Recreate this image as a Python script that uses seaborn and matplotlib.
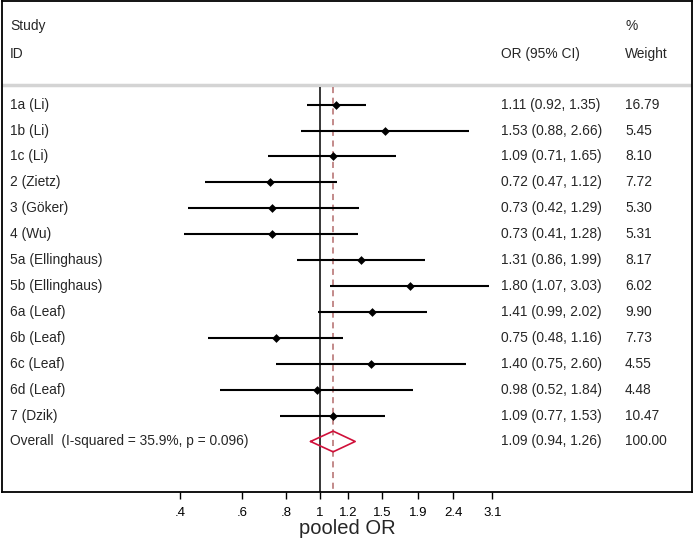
import numpy as np
import seaborn as sns
import matplotlib
matplotlib.use("Agg")
import matplotlib.pyplot as plt

# study data
studies = ['1a (Li)', '1b (Li)', '1c (Li)', '2 (Zietz)', '3 (Göker)', '4 (Wu)',
           '5a (Ellinghaus)', '5b (Ellinghaus)', '6a (Leaf)', '6b (Leaf)',
           '6c (Leaf)', '6d (Leaf)', '7 (Dzik)']
odds = [1.11, 1.53, 1.09, 0.72, 0.73, 0.73, 1.31, 1.80, 1.41, 0.75, 1.40, 0.98, 1.09]
lower = [0.92, 0.88, 0.71, 0.47, 0.42, 0.41, 0.86, 1.07, 0.99, 0.48, 0.75, 0.52, 0.77]
upper = [1.35, 2.66, 1.65, 1.12, 1.29, 1.28, 1.99, 3.03, 2.02, 1.16, 2.60, 1.84, 1.53]
weights = [16.79, 5.45, 8.10, 7.72, 5.30, 5.31, 8.17, 6.02, 9.90, 7.73, 4.55, 4.48, 10.47]

overall_label = 'Overall  (I-squared = 35.9%, p = 0.096)'
overall_or, overall_lo, overall_hi = 1.09, 0.94, 1.26
overall_weight = 100.00

tick_vals = [0.4, 0.6, 0.8, 1, 1.2, 1.5, 1.9, 2.4, 3.1]
tick_labels = ['.4', '.6', '.8', '1', '1.2', '1.5', '1.9', '2.4', '3.1']

sns.set_style("white")
plt.rcParams['font.family'] = ['Liberation Sans', 'DejaVu Sans']

fig = plt.figure(figsize=(6.94, 5.39), dpi=100)
ax = fig.add_axes([2 / 694, 47 / 539, 690 / 694, 491 / 539])

rows = np.arange(len(studies))
n = len(studies)

# layout in row units
y_top, y_bot = -4.0, 14.95
y_sep = -0.77
ax.set_xscale('log')
ax.set_xlim(0.124, 11.5)
ax.set_ylim(y_bot, y_top)

# header separator and reference lines
ax.axhline(y_sep, color='#d4d4d4', lw=2.5, zorder=1)
ax.vlines(1, y_sep + 0.08, y_bot, color='black', lw=1.1, zorder=2)
ax.vlines(overall_or, y_sep + 0.08, y_bot, color='#b36b6b', lw=1.1,
          linestyles=(0, (4, 3)), zorder=2)

# confidence intervals and point estimates
ax.hlines(rows, lower, upper, color='black', lw=1.5, zorder=3)
sns.scatterplot(x=odds, y=rows, marker='D', color='black', s=20,
                edgecolor='black', linewidth=0, ax=ax, zorder=4, legend=False)

# overall diamond
yo = n
h = 0.4
ax.plot([overall_lo, overall_or, overall_hi, overall_or, overall_lo],
        [yo, yo - h, yo, yo + h, yo], color='#d0103a', lw=1.2, zorder=4)

# text columns
fs = 9.9
trans = ax.get_yaxis_transform()
x_study, x_or, x_w = 8 / 690, 499 / 690, 623 / 690
for i, s in enumerate(studies):
    ax.text(x_study, i, s, transform=trans, fontsize=fs, va='center')
    ax.text(x_or, i, f'{odds[i]:.2f} ({lower[i]:.2f}, {upper[i]:.2f})',
            transform=trans, fontsize=fs, va='center')
    ax.text(x_w, i, f'{weights[i]:.2f}', transform=trans, fontsize=fs, va='center')
ax.text(x_study, yo, overall_label, transform=trans, fontsize=fs, va='center')
ax.text(x_or, yo, f'{overall_or:.2f} ({overall_lo:.2f}, {overall_hi:.2f})',
        transform=trans, fontsize=fs, va='center')
ax.text(x_w, yo, f'{overall_weight:.2f}', transform=trans, fontsize=fs, va='center')

ax.text(x_study, -3.05, 'Study', transform=trans, fontsize=fs, va='center')
ax.text(x_study, -1.97, 'ID', transform=trans, fontsize=fs, va='center')
ax.text(x_or, -1.97, 'OR (95% CI)', transform=trans, fontsize=fs, va='center')
ax.text(x_w, -3.05, '%', transform=trans, fontsize=fs, va='center')
ax.text(x_w, -1.97, 'Weight', transform=trans, fontsize=fs, va='center')

# axes styling
ax.set_yticks([])
ax.set_xticks(tick_vals)
ax.set_xticklabels(tick_labels)
ax.xaxis.set_minor_locator(matplotlib.ticker.NullLocator())
ax.tick_params(axis='x', direction='out', length=5, width=1, labelsize=9.5,
               pad=6, bottom=True, colors='black')
for sp in ax.spines.values():
    sp.set_color('black')
    sp.set_linewidth(1.3)
ax.set_xlabel('pooled OR', fontsize=14.5, labelpad=0)

fig.savefig('out.png', dpi=100)
